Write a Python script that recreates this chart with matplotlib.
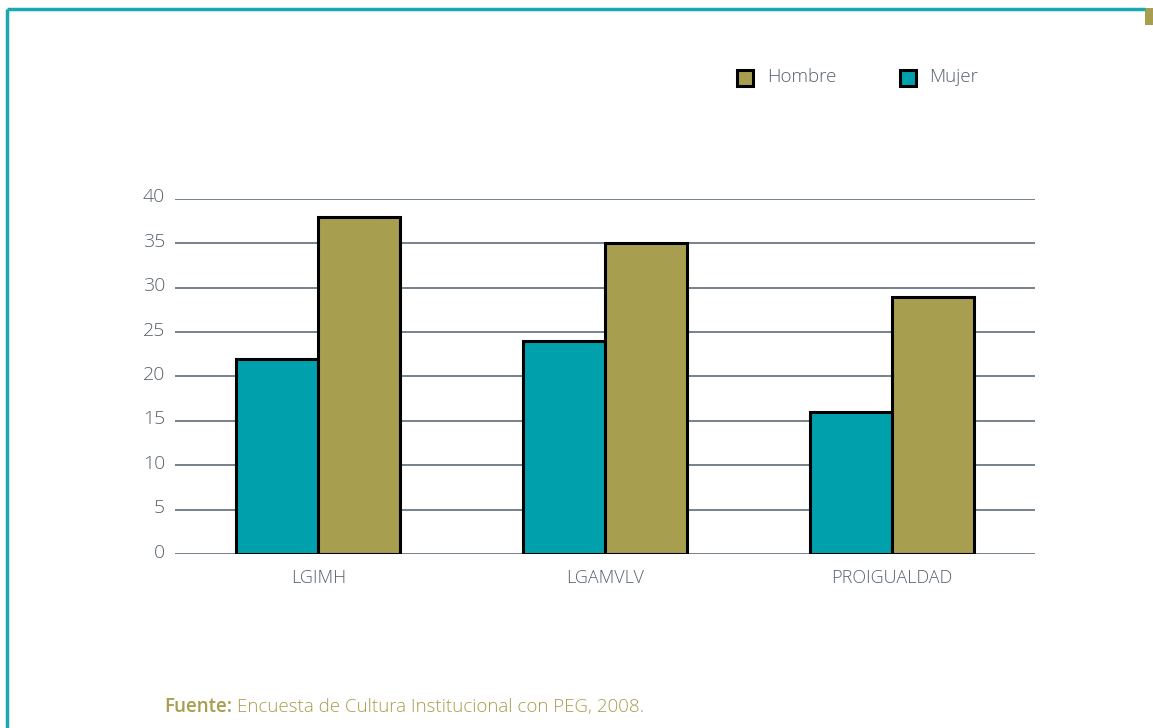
import matplotlib
matplotlib.use("Agg")
import matplotlib.pyplot as plt
from matplotlib.patches import Rectangle
from matplotlib.transforms import ScaledTranslation
import numpy as np

categories = ["LGIMH", "LGAMVLV", "PROIGUALDAD"]
mujer = [22, 24, 16]
hombre = [38, 35, 29]
yticks = [0, 5, 10, 15, 20, 25, 30, 35, 40]

TEAL = "#00a0ad"
GOLD = "#a89e50"
FRAME = "#1aa8b0"
GRID = "#6a7782"
TEXT = "#56626c"

plt.rcParams["font.family"] = ["Open Sans", "DejaVu Sans"]

fig = plt.figure(figsize=(11.53, 7.28), dpi=100)
W, H = 1153, 728

# page frame: teal top and left rules, gold corner tab
fig.add_artist(plt.Line2D([7 / W, 1145 / W], [1 - 9 / H, 1 - 9 / H], color=FRAME, lw=2.5,
                          transform=fig.transFigure, solid_capstyle="butt"))
fig.add_artist(plt.Line2D([7 / W, 7 / W], [1 - 9 / H, 0], color=FRAME, lw=2.5,
                          transform=fig.transFigure, solid_capstyle="butt"))
fig.add_artist(Rectangle((1145 / W, 1 - 25 / H), 8 / W, 17 / H, transform=fig.transFigure,
                         facecolor=GOLD, edgecolor="none"))

ax = fig.add_axes([175 / W, 1 - 554 / H, (1035 - 175) / W, (554 - 199) / H])
x = np.arange(len(categories))
w = 0.286
ax.bar(x - w / 2, mujer, w, color=TEAL, edgecolor="black", linewidth=2.2, zorder=3, label="Mujer")
ax.bar(x + w / 2, hombre, w, color=GOLD, edgecolor="black", linewidth=2.2, zorder=3, label="Hombre")

ax.set_xlim(-0.5, 2.5)
ax.set_ylim(0, 40)
ax.set_yticks(yticks)
ax.set_yticklabels([str(v) for v in yticks])
for v in yticks:
    ax.axhline(v, color=GRID, lw=1.3, zorder=1)
for s in ax.spines.values():
    s.set_visible(False)
ax.tick_params(axis="y", length=0, pad=7, labelsize=14, labelcolor=TEXT)
ax.set_xticks(x)
ax.set_xticklabels(categories)
ax.tick_params(axis="x", length=0, pad=11, labelsize=13, labelcolor=TEXT)
lift = ScaledTranslation(0, 3.5 / 100, fig.dpi_scale_trans)
for t in ax.get_yticklabels():
    t.set_fontweight("light")
    t.set_transform(t.get_transform() + lift)
for t in ax.get_xticklabels():
    t.set_fontweight("light")
ax.set_facecolor("none")

# legend
for (px, label, col, tx) in [(737, "Hombre", GOLD, 767), (900, "Mujer", TEAL, 929)]:
    fig.add_artist(Rectangle((px / W, 1 - 86 / H), 16 / W, 16 / H, transform=fig.transFigure,
                             facecolor=col, edgecolor="black", lw=2.2))
    fig.text(tx / W, 1 - 77.5 / H, label, fontsize=13.5, color=TEXT, va="center", ha="left",
             fontweight="light")

# source note
t1 = fig.text(164 / W, 1 - 707 / H, "Fuente:", fontsize=13.5, color=GOLD, fontweight="semibold",
              va="center", ha="left")
fig.canvas.draw()
bb = t1.get_window_extent()
fig.text((bb.x1 + 5) / W, 1 - 707 / H, "Encuesta de Cultura Institucional con PEG, 2008.",
         fontsize=13.5, color=GOLD, va="center", ha="left", fontweight="light")

fig.savefig("out.png", dpi=100)
